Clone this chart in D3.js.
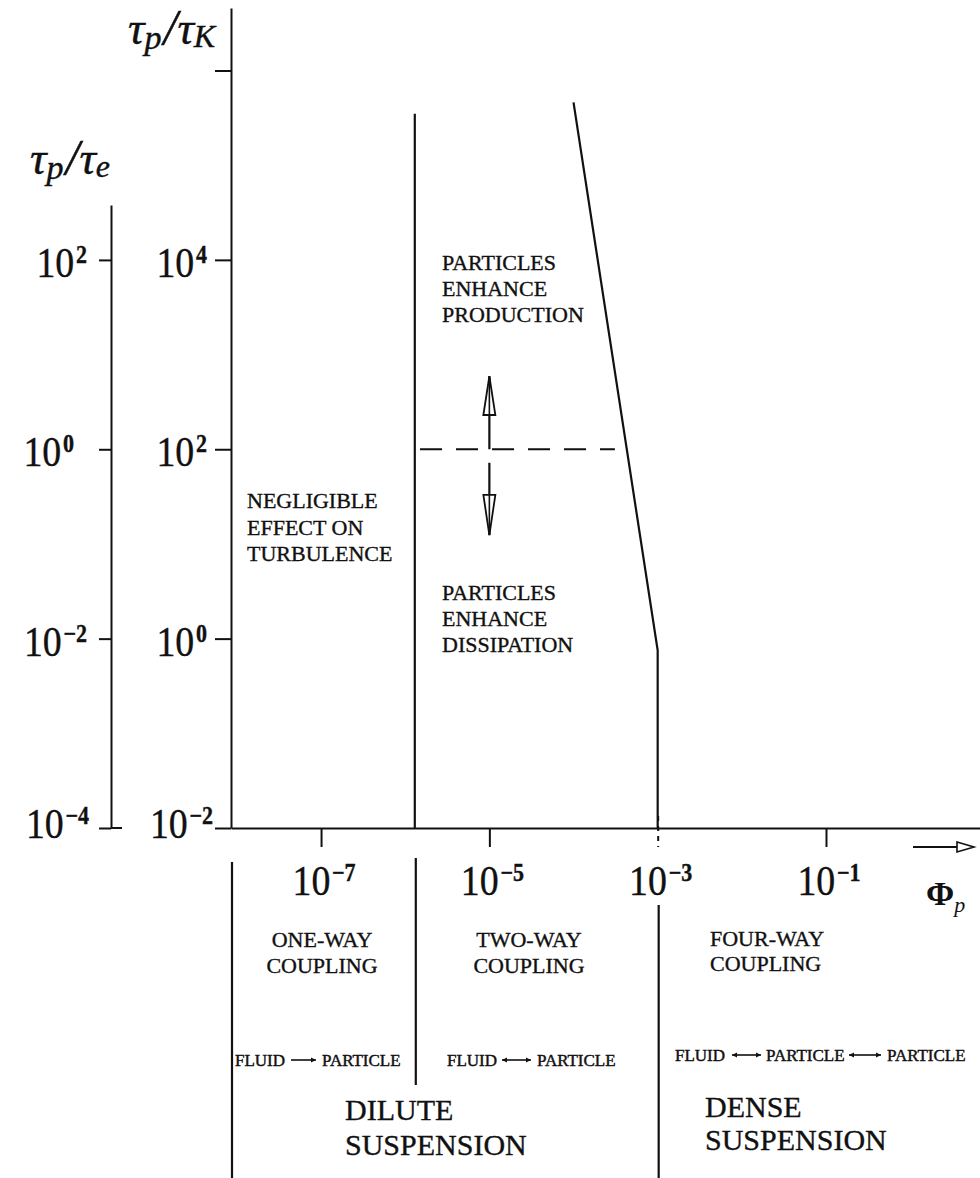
<!DOCTYPE html>
<html><head><meta charset="utf-8">
<script src="https://cdn.jsdelivr.net/npm/d3@7"></script>
<style>body{margin:0;background:#fff}svg{display:block}</style>
</head><body>
<svg id="c" width="980" height="1178"></svg>
<script>
// ---------- data ----------
const xTicks = [1e-7, 1e-5, 1e-3, 1e-1];
const xTickExps = ["−7", "−5", "−3", "−1"];
const kTicks = [1e-2, 1e0, 1e2, 1e4, 1e6];
const kTickExps = ["−2", "0", "2", "4", ""];
const eTicks = [1e-4, 1e-2, 1e0, 1e2];
const eTickExps = ["−4", "−2", "0", "2"];
const oneWayLimit = 1.3e-6;            // Φp of the one-way / two-way boundary
const oneWayTop = 3.5e5;               // τp/τK where that boundary ends
const fourWayCurve = [[1e-4, 4.6e5], [1e-3, 0.75], [1e-3, 1e-2]];
const neutralLevel = 1e2;              // τp/τK of the dashed line
const neutralSpan = [1.5e-6, 3.1e-4];  // Φp extent of the dashed line
const arrowPhi = 1e-5;
const upArrow = [1e2, 230, 590];       // start, head base, tip (τp/τK)
const downArrow = [72, 33, 12.4];

// ---------- scales ----------
const svg = d3.select("#c");
const ink = "#111";
const serif = "'Liberation Serif', 'DejaVu Serif', serif";

const x = d3.scaleLog().domain([Math.pow(10, -8.07), Math.pow(10, 0.83)]).range([231, 980]);
const yK = d3.scaleLog().domain([1e-2, Math.pow(10, 6.66)]).range([828, 8]);
const yE = d3.scaleLog().domain([1e-4, Math.pow(10, 2.58)]).range([828, 205]);

function styleAxis(g) {
  g.selectAll("path.domain").attr("stroke", ink).attr("stroke-width", 2);
  g.selectAll(".tick line").attr("stroke", ink).attr("stroke-width", 2);
  g.selectAll(".tick text").remove();
}

// main vertical axis τp/τK
svg.append("g").attr("transform", "translate(231,0)")
  .call(d3.axisLeft(yK).tickValues(kTicks).tickSize(16).tickSizeOuter(0).tickFormat(""))
  .call(styleAxis);

// secondary axis τp/τe
const gE = svg.append("g").attr("transform", "translate(111,0)")
  .call(d3.axisLeft(yE).tickValues(eTicks).tickSize(12).tickSizeOuter(0).tickFormat(""))
  .call(styleAxis);
gE.append("line").attr("x1", 0).attr("x2", 11).attr("y1", yE(1e-4)).attr("y2", yE(1e-4))
  .attr("stroke", ink).attr("stroke-width", 2);

// horizontal axis Φp
const gX = svg.append("g").attr("transform", "translate(0,828)")
  .call(d3.axisBottom(x).tickValues(xTicks).tickSize(19).tickSizeOuter(0).tickFormat(""))
  .call(styleAxis);
gX.selectAll(".tick").filter(d => d === 1e-3).select("line")
  .attr("y1", -12).attr("stroke-dasharray", "5,5");

// axis arrow under the Φp axis
svg.append("line").attr("x1", 913).attr("x2", 958).attr("y1", 847).attr("y2", 847)
  .attr("stroke", ink).attr("stroke-width", 2.2);
svg.append("path").attr("d", "M957,842 L974,847 L957,852 Z")
  .attr("fill", "#fff").attr("stroke", ink).attr("stroke-width", 1.6);

// ---------- tick labels (10 with superscript) ----------
function powLabel(px, py, exp, anchor) {
  const g = svg.append("g").attr("transform", `translate(${px},${py}) scale(0.88,1)`);
  const t = g.append("text").attr("text-anchor", anchor)
    .attr("font-family", serif).attr("fill", ink).attr("stroke", ink).attr("stroke-width", 0.4);
  t.append("tspan").attr("font-size", 43).text("10");
  t.append("tspan").attr("font-size", 25).attr("dy", -14).attr("dx", 2).attr("font-weight", "bold").text(exp);
}
kTicks.forEach((v, i) => {
  if (!kTickExps[i]) return;
  powLabel(v < 1 ? 213 : 207, Math.min(yK(v) + 17, 838), kTickExps[i], "end");
});
eTicks.forEach((v, i) => {
  powLabel(v < 1e-3 ? 89 : (v === 1 ? 74 : 87), Math.min(yE(v) + 17, 838), eTickExps[i], "end");
});
xTicks.forEach((v, i) => {
  powLabel(x(v) + 3, 895, xTickExps[i], "middle");
});

// ---------- axis titles ----------
function tauTitle(px, py, sub) {
  const t = svg.append("text").attr("x", px).attr("y", py)
    .attr("font-family", serif).attr("font-style", "italic").attr("fill", ink)
    .attr("stroke", ink).attr("stroke-width", 0.4);
  t.append("tspan").attr("font-size", 46).text("τ");
  t.append("tspan").attr("font-size", 34).attr("dy", 5).text("p");
  t.append("tspan").attr("font-size", 50).attr("dy", -5).attr("dx", 2).text("/");
  t.append("tspan").attr("font-size", 46).text("τ");
  t.append("tspan").attr("font-size", 32).attr("dy", 3).text(sub);
}
tauTitle(128, 44, "K");
tauTitle(30, 174, "e");

const phi = svg.append("text").attr("x", 926).attr("y", 905).attr("font-family", serif).attr("fill", ink);
phi.append("tspan").attr("font-size", 34).attr("font-weight", "bold").text("Φ");
phi.append("tspan").attr("font-size", 22).attr("font-style", "italic").attr("dy", 7).text("p");

// ---------- regime boundaries ----------
svg.append("line").attr("x1", x(oneWayLimit)).attr("x2", x(oneWayLimit))
  .attr("y1", yK(1e-2)).attr("y2", yK(oneWayTop)).attr("stroke", ink).attr("stroke-width", 2.2);

svg.append("path").datum(fourWayCurve)
  .attr("d", d3.line().x(d => x(d[0])).y(d => yK(d[1])))
  .attr("fill", "none").attr("stroke", ink).attr("stroke-width", 2.2);

svg.append("line").attr("x1", x(neutralSpan[0])).attr("x2", x(neutralSpan[1]))
  .attr("y1", yK(neutralLevel)).attr("y2", yK(neutralLevel))
  .attr("stroke", ink).attr("stroke-width", 2).attr("stroke-dasharray", "22,14");

function hollowArrow(v) {
  const ax = x(arrowPhi);
  svg.append("line").attr("x1", ax).attr("x2", ax).attr("y1", yK(v[0])).attr("y2", yK(v[2]))
    .attr("stroke", ink).attr("stroke-width", 2.2);
  const yb = yK(v[1]), yt = yK(v[2]);
  svg.append("path").attr("d", `M${ax - 6},${yb} L${ax},${yt} L${ax + 6},${yb} Z`)
    .attr("fill", "#fff").attr("stroke", ink).attr("stroke-width", 1.8);
  svg.append("line").attr("x1", ax).attr("x2", ax).attr("y1", yb).attr("y2", yt)
    .attr("stroke", ink).attr("stroke-width", 1.6);
}
hollowArrow(upArrow);
hollowArrow(downArrow);

// ---------- region labels ----------
function block(px, y0, lines, size, lh, anchor) {
  const t = svg.append("text").attr("font-family", serif).attr("font-size", size)
    .attr("fill", ink).attr("stroke", ink).attr("stroke-width", 0.35)
    .attr("text-anchor", anchor || "start");
  lines.forEach((s, i) => t.append("tspan").attr("x", px).attr("y", y0 + i * lh).text(s));
}
block(247, 508, ["NEGLIGIBLE", "EFFECT ON", "TURBULENCE"], 22, 26.5);
block(442, 270, ["PARTICLES", "ENHANCE", "PRODUCTION"], 22, 26);
block(442, 600, ["PARTICLES", "ENHANCE", "DISSIPATION"], 22, 26);

// ---------- lower table ----------
const lowerLines = [[x.domain()[0], 862, 1178], [oneWayLimit, 858, 1085], [1e-3, 905, 1178]];
lowerLines.forEach(d => svg.append("line").attr("x1", x(d[0]) + 1).attr("x2", x(d[0]) + 1)
  .attr("y1", d[1]).attr("y2", d[2]).attr("stroke", ink).attr("stroke-width", 2.2));

block(322, 947, ["ONE-WAY", "COUPLING"], 22, 26, "middle");
block(529, 947, ["TWO-WAY", "COUPLING"], 22, 26, "middle");
block(710, 946, ["FOUR-WAY", "COUPLING"], 22, 25);

function word(px, py, s) {
  svg.append("text").attr("x", px).attr("y", py).attr("font-family", serif)
    .attr("font-size", 17).attr("fill", ink).attr("stroke", ink).attr("stroke-width", 0.45).text(s);
}
function flow(x1, x2, py, both) {
  const yy = py - 6;
  svg.append("line").attr("x1", x1).attr("x2", x2).attr("y1", yy).attr("y2", yy)
    .attr("stroke", ink).attr("stroke-width", 1.6);
  svg.append("path").attr("d", `M${x2 - 5},${yy - 2.5} L${x2},${yy} L${x2 - 5},${yy + 2.5} Z`).attr("fill", ink);
  if (both) svg.append("path").attr("d", `M${x1 + 5},${yy - 2.5} L${x1},${yy} L${x1 + 5},${yy + 2.5} Z`).attr("fill", ink);
}
word(235, 1066, "FLUID"); flow(291, 316, 1066, false); word(322, 1066, "PARTICLE");
word(447, 1066, "FLUID"); flow(502, 531, 1066, true); word(537, 1066, "PARTICLE");
word(675, 1061, "FLUID"); flow(732, 761, 1061, true); word(766, 1061, "PARTICLE");
flow(849, 881, 1061, true); word(887, 1061, "PARTICLE");

block(345, 1120, ["DILUTE", "SUSPENSION"], 30, 35);
block(705, 1117, ["DENSE", "SUSPENSION"], 30, 33);
</script>
</body></html>
